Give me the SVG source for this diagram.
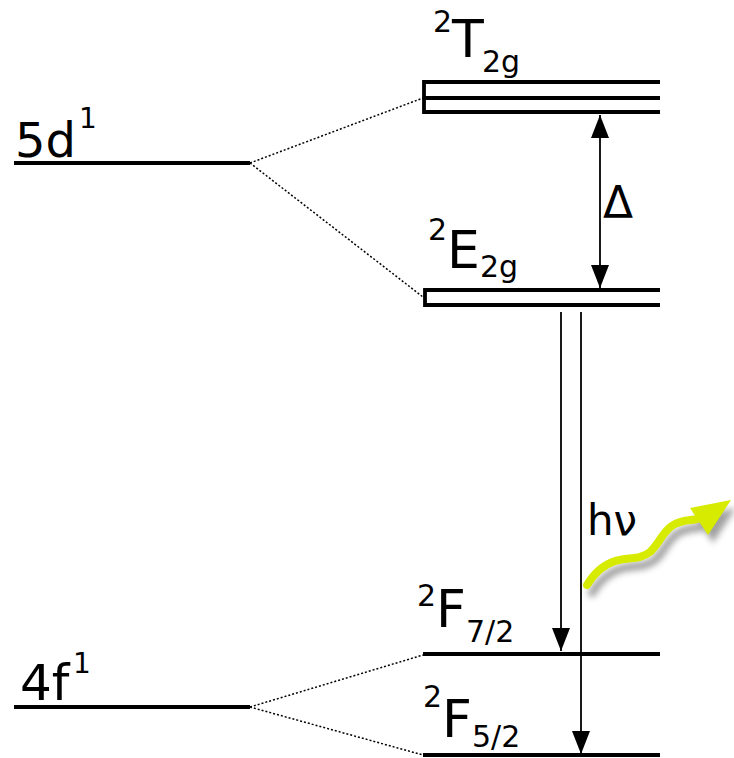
<svg xmlns="http://www.w3.org/2000/svg" width="734" height="758" viewBox="0 0 734 758">
<defs>
<style>
.lvl{stroke:#000;stroke-width:3.8;fill:none}
.thin{stroke:#000;stroke-width:1.8;fill:none}
.dot{stroke:#000;stroke-width:1.5;stroke-dasharray:2 2;fill:none}
text{font-family:"DejaVu Sans",sans-serif;fill:#000}
.big{font-size:52px}
.sup{font-size:30px}
</style>
<marker id="ah" viewBox="0 0 23 18" refX="23" refY="9" markerWidth="23" markerHeight="18" markerUnits="userSpaceOnUse" orient="auto">
<path d="M0,0 L23,9 L0,18 Z" fill="#000"/>
</marker>
<filter id="blur" x="-20%" y="-20%" width="140%" height="140%"><feGaussianBlur stdDeviation="3"/></filter>
</defs>
<g id="level-5d">
<line class="lvl" x1="14" y1="163" x2="250" y2="163" stroke-width="4.5"/>
<text><tspan x="15" y="157" font-size="48">5d</tspan><tspan x="79" y="128" font-size="28">1</tspan></text>
</g>
<g id="level-4f">
<line class="lvl" x1="14" y1="707" x2="250" y2="707" stroke-width="4.5"/>
<text><tspan x="20" y="700" font-size="50">4f</tspan><tspan x="73" y="673" font-size="28">1</tspan></text>
</g>
<g id="level-T2g">
<path class="lvl" d="M660,82 H424 V112 H660 M424,98 H660"/>
<text><tspan x="433" y="32" class="sup">2</tspan><tspan class="big" x="452" y="57">T</tspan><tspan class="sup" x="482" y="72">2g</tspan></text>
</g>
<g id="level-E2g">
<path class="lvl" d="M660,290 H425 V305 H660"/>
<text><tspan x="428" y="240" class="sup">2</tspan><tspan class="big" x="447" y="268">E</tspan><tspan class="sup" x="480" y="277">2g</tspan></text>
</g>
<g id="level-F72">
<line class="lvl" x1="423" y1="654" x2="660" y2="654" stroke-width="3.2"/>
<text><tspan x="417" y="606" class="sup">2</tspan><tspan class="big" x="436" y="627">F</tspan><tspan class="sup" x="466" y="642">7/2</tspan></text>
</g>
<g id="level-F52">
<line class="lvl" x1="423" y1="755" x2="660" y2="755" stroke-width="3.2"/>
<text><tspan x="423" y="707" class="sup">2</tspan><tspan class="big" x="442" y="737">F</tspan><tspan class="sup" x="472" y="747">5/2</tspan></text>
</g>
<g id="connectors">
<line class="dot" x1="250" y1="163" x2="423" y2="98"/>
<line class="dot" x1="250" y1="163" x2="423" y2="297"/>
<line class="dot" x1="250" y1="707" x2="423" y2="655"/>
<line class="dot" x1="250" y1="707" x2="423" y2="755"/>
<line class="thin" x1="600" y1="200" x2="600" y2="115" marker-end="url(#ah)"/>
<line class="thin" x1="600" y1="200" x2="600" y2="288" marker-end="url(#ah)"/>
<line class="thin" x1="561" y1="312" x2="561" y2="651" marker-end="url(#ah)"/>
<line class="thin" x1="581" y1="312" x2="581" y2="754" marker-end="url(#ah)"/>
</g>
<g id="labels">
<text x="603" y="218" font-size="44">Δ</text>
<text x="587" y="535" font-size="42">hν</text>
</g>
<g id="photon">
<g transform="translate(5,8)" filter="url(#blur)" opacity="0.55">
<path d="M587,585 C593,575 603,565 615,561 C628,557 640,560 650,552 C660,543 663,530 675,524 C685,519 693,521 700,518" stroke="#555" stroke-width="8" fill="none" stroke-linecap="round"/>
<path d="M731,500 L690,508 L708,535 Z" fill="#555"/>
</g>
<path d="M587,585 C593,575 603,565 615,561 C628,557 640,560 650,552 C660,543 663,530 675,524 C685,519 693,521 700,518" stroke="#d6eb00" stroke-width="8" fill="none" stroke-linecap="round"/>
<path d="M731,500 L690,508 L708,535 Z" fill="#d6eb00"/>
</g>
</svg>
